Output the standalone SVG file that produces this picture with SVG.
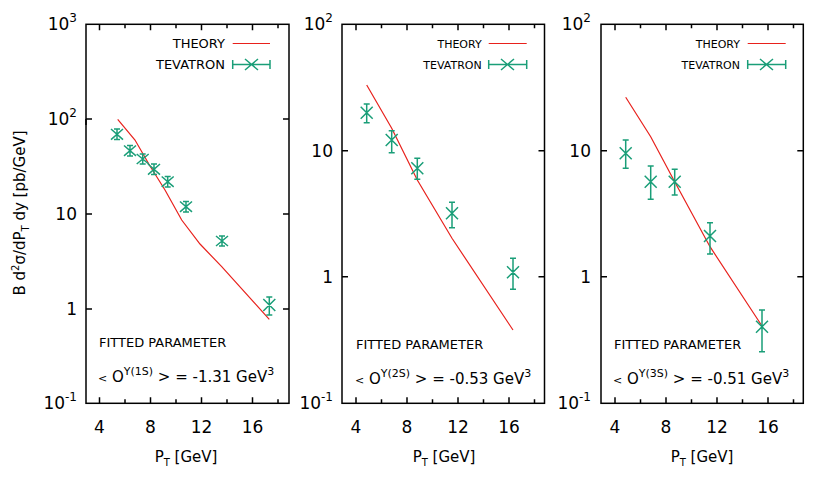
<svg xmlns="http://www.w3.org/2000/svg" width="817" height="491" viewBox="0 0 817 491">
<style>
text{font-family:"DejaVu Sans","Liberation Sans",sans-serif;fill:#000}
.frame{fill:none;stroke:#000;stroke-width:1.5}
.tk{stroke:#000;stroke-width:1.5}
.th{fill:none;stroke:#e8211c;stroke-width:1.2}
.dt{fill:none;stroke:#1a9e78;stroke-width:1.5}
.tl{font-size:17px}
.sm{font-size:13px}
.ax{font-size:15px}
</style>
<defs>
<g id="tx">
<path class="tk" d="M13.5,0v6M39,0v6M64.5,0v6M90,0v6M26.25,0v4M51.75,0v4M77.25,0v4M102.75,0v4M13.5,379v-6M39,379v-6M64.5,379v-6M90,379v-6M26.25,379v-4M51.75,379v-4M77.25,379v-4M102.75,379v-4"/>
</g>
</defs>
<!-- panel 1 -->
<g id="panel1">
<rect class="frame" x="86" y="24.3" width="203" height="379"/>
<path class="tk" d="M99.5,24.3v6M125,24.3v4M150.5,24.3v6M176,24.3v4M201.5,24.3v6M227,24.3v4M252.5,24.3v6M278,24.3v4M99.5,403.3v-6M125,403.3v-4M150.5,403.3v-6M176,403.3v-4M201.5,403.3v-6M227,403.3v-4M252.5,403.3v-6M278,403.3v-4M86,119v6M86,119h6M289,119h-6M86,214h6M289,214h-6M86,309h6M289,309h-6"/>
<text class="tl" x="77" y="30" text-anchor="end">10<tspan font-size="12" dy="-8">3</tspan></text>
<text class="tl" x="77" y="125" text-anchor="end">10<tspan font-size="12" dy="-8">2</tspan></text>
<text class="tl" x="77" y="220" text-anchor="end">10</text>
<text class="tl" x="77" y="315" text-anchor="end">1</text>
<text class="tl" x="77" y="409" text-anchor="end">10<tspan font-size="12" dy="-8">-1</tspan></text>
<text class="tl" x="99.5" y="433" text-anchor="middle">4</text>
<text class="tl" x="150.5" y="433" text-anchor="middle">8</text>
<text class="tl" x="201.5" y="433" text-anchor="middle">12</text>
<text class="tl" x="252.5" y="433" text-anchor="middle">16</text>
<text class="ax" x="186" y="462" text-anchor="middle">P<tspan font-size="10" dy="4">T</tspan><tspan dy="-4"> [GeV]</tspan></text>
<text class="ax" transform="translate(25,213) rotate(-90)" text-anchor="middle" font-size="14">B d<tspan font-size="10" dy="-6">2</tspan><tspan dy="6">σ/dP</tspan><tspan font-size="10" dy="4">T</tspan><tspan dy="-4"> dy [pb/GeV]</tspan></text>
<text class="sm" x="225" y="48" text-anchor="end" font-size="11">THEORY</text>
<path class="th" d="M232.7,43.5H270"/>
<text class="sm" x="225" y="69" text-anchor="end" font-size="11">TEVATRON</text>
<path class="dt" d="M232.7,64.5H270M232.7,60v9M270,60v9M245,59l13,11M245,70l13,-11"/>
<text class="sm" x="99" y="347">FITTED PARAMETER</text>
<text class="ax" x="98" y="382"><tspan font-size="11">&lt;</tspan> O<tspan font-size="11" dy="-7">Y(1S)</tspan><tspan dy="7"> &gt; = -1.31 GeV</tspan><tspan font-size="11" dy="-7">3</tspan></text>
<path class="th" d="M117.7,119.3L135,140L150,166L165,190L181.7,220L200,244L221.7,266.7L269.3,319.3"/>
<path class="dt" d="M111,129l12,10.6M111,139.6l12,-10.6M117,129v10.6M114,129h6M114,139.6h6
M124,145.5l12,10.4M124,155.9l12,-10.4M130,145.5v10.4M127,145.5h6M127,155.9h6
M136.7,154l12,10M136.7,164l12,-10M142.7,154v10M139.7,154h6M139.7,164h6
M148,164l12,10.6M148,174.6l12,-10.6M154,164v10.6M151,164h6M151,174.6h6
M161.7,176.5l12,10.4M161.7,186.9l12,-10.4M167.7,176.5v10.4M164.7,176.5h6M164.7,186.9h6
M180,201.5l12,10.4M180,211.9l12,-10.4M186,201.5v10.4M183,201.5h6M183,211.9h6
M216,236l12,10M216,246l12,-10M222,236v10M219,236h6M219,246h6
M263.3,299l12,12M263.3,311l12,-12M269.3,297v18M266.3,297h6M266.3,315h6"/>
</g>
<!-- panel 2 -->
<g id="panel2">
<rect class="frame" x="342" y="24.3" width="202.5" height="379"/>
<path class="tk" d="M356,24.3v6M381.5,24.3v4M407,24.3v6M432.5,24.3v4M458,24.3v6M483.5,24.3v4M509,24.3v6M534.5,24.3v4M356,403.3v-6M381.5,403.3v-4M407,403.3v-6M432.5,403.3v-4M458,403.3v-6M483.5,403.3v-4M509,403.3v-6M534.5,403.3v-4M342,150.7h6M544.5,150.7h-6M342,276.7h6M544.5,276.7h-6"/>
<text class="tl" x="333" y="30" text-anchor="end">10<tspan font-size="12" dy="-8">2</tspan></text>
<text class="tl" x="333" y="157" text-anchor="end">10</text>
<text class="tl" x="333" y="283" text-anchor="end">1</text>
<text class="tl" x="333" y="409" text-anchor="end">10<tspan font-size="12" dy="-8">-1</tspan></text>
<text class="tl" x="356" y="433" text-anchor="middle">4</text>
<text class="tl" x="407" y="433" text-anchor="middle">8</text>
<text class="tl" x="458" y="433" text-anchor="middle">12</text>
<text class="tl" x="509" y="433" text-anchor="middle">16</text>
<text class="ax" x="444" y="462" text-anchor="middle">P<tspan font-size="10" dy="4">T</tspan><tspan dy="-4"> [GeV]</tspan></text>
<text x="481.7" y="48" text-anchor="end" font-size="11">THEORY</text>
<path class="th" d="M488.7,43.5H526.7"/>
<text x="481.7" y="69" text-anchor="end" font-size="11">TEVATRON</text>
<path class="dt" d="M488.7,64.5H526.7M488.7,60v9M526.7,60v9M501,59l13,11M501,70l13,-11"/>
<text class="sm" x="356" y="349">FITTED PARAMETER</text>
<text class="ax" x="355" y="384"><tspan font-size="11">&lt;</tspan> O<tspan font-size="11" dy="-7">Y(2S)</tspan><tspan dy="7"> &gt; = -0.53 GeV</tspan><tspan font-size="11" dy="-7">3</tspan></text>
<path class="th" d="M366.7,85L391.7,128.3L417.3,180L452,238.3L513,330"/>
<path class="dt" d="M360.7,106.7l12,12M360.7,118.7l12,-12M366.7,104v18.7M363.7,104h6M363.7,122.7h6
M385.7,134l12,12M385.7,146l12,-12M391.7,130.7v22M388.7,130.7h6M388.7,152.7h6
M411.3,162.3l12,12M411.3,174.3l12,-12M417.3,158.3v21M414.3,158.3h6M414.3,179.3h6
M446,207.3l12,12M446,219.3l12,-12M452,202.3v25.4M449,202.3h6M449,227.7h6
M507,266.3l12,12M507,278.3l12,-12M513,258.3v31M510,258.3h6M510,289.3h6"/>
</g>
<!-- panel 3 -->
<g id="panel3">
<rect class="frame" x="601" y="24.3" width="202.3" height="379"/>
<path class="tk" d="M615,24.3v6M640.5,24.3v4M666,24.3v6M691.5,24.3v4M717,24.3v6M742.5,24.3v4M768,24.3v6M793.5,24.3v4M615,403.3v-6M640.5,403.3v-4M666,403.3v-6M691.5,403.3v-4M717,403.3v-6M742.5,403.3v-4M768,403.3v-6M793.5,403.3v-4M601,150.7h6M803.3,150.7h-6M601,276.7h6M803.3,276.7h-6"/>
<text class="tl" x="591" y="30" text-anchor="end">10<tspan font-size="12" dy="-8">2</tspan></text>
<text class="tl" x="591" y="157" text-anchor="end">10</text>
<text class="tl" x="591" y="283" text-anchor="end">1</text>
<text class="tl" x="591" y="409" text-anchor="end">10<tspan font-size="12" dy="-8">-1</tspan></text>
<text class="tl" x="615" y="433" text-anchor="middle">4</text>
<text class="tl" x="666" y="433" text-anchor="middle">8</text>
<text class="tl" x="717" y="433" text-anchor="middle">12</text>
<text class="tl" x="768" y="433" text-anchor="middle">16</text>
<text class="ax" x="702" y="462" text-anchor="middle">P<tspan font-size="10" dy="4">T</tspan><tspan dy="-4"> [GeV]</tspan></text>
<text x="740" y="48" text-anchor="end" font-size="11">THEORY</text>
<path class="th" d="M747.7,43.5H785.7"/>
<text x="740" y="69" text-anchor="end" font-size="11">TEVATRON</text>
<path class="dt" d="M747.7,64.5H785.7M747.7,60v9M785.7,60v9M760,59l13,11M760,70l13,-11"/>
<text class="sm" x="614" y="349">FITTED PARAMETER</text>
<text class="ax" x="613" y="384"><tspan font-size="11">&lt;</tspan> O<tspan font-size="11" dy="-7">Y(3S)</tspan><tspan dy="7"> &gt; = -0.51 GeV</tspan><tspan font-size="11" dy="-7">3</tspan></text>
<path class="th" d="M625.7,97.3L650.7,136.7L674.7,181.7L710,246.7L762,326"/>
<path class="dt" d="M619.7,147.3l12,12M619.7,159.3l12,-12M625.7,140v28.3M622.7,140h6M622.7,168.3h6
M644.7,175.7l12,12M644.7,187.7l12,-12M650.7,166v33.3M647.7,166h6M647.7,199.3h6
M668.7,175.7l12,12M668.7,187.7l12,-12M674.7,169.3v25.7M671.7,169.3h6M671.7,195h6
M704,230l12,12M704,242l12,-12M710,222.7v31.3M707,222.7h6M707,254h6
M756,320.7l12,12M756,332.7l12,-12M762,310v41.7M759,310h6M759,351.7h6"/>
</g>
</svg>
